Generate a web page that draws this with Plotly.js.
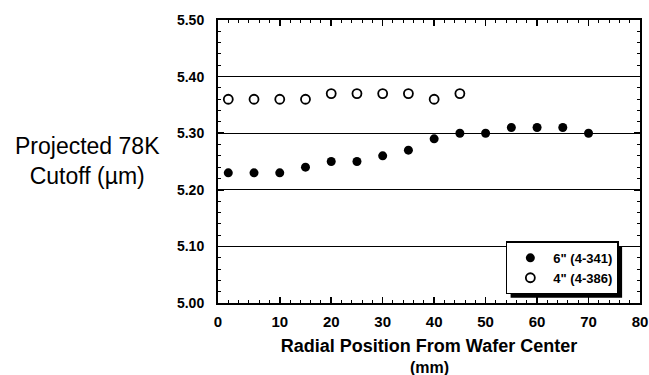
<!DOCTYPE html>
<html><head><meta charset="utf-8">
<script src="https://cdn.plot.ly/plotly-3.0.1.min.js"></script>
<style>body{margin:0;background:#fff}</style>
</head><body><div id="chart" style="width:649px;height:375px"></div>
<script>
// Data
const radius6 = [0, 5, 10, 15, 20, 25, 30, 35, 40, 45, 50, 55, 60, 65, 70];
const cutoff6 = [5.23, 5.23, 5.23, 5.24, 5.25, 5.25, 5.26, 5.27, 5.29, 5.30, 5.30, 5.31, 5.31, 5.31, 5.30];
const radius4 = [0, 5, 10, 15, 20, 25, 30, 35, 40, 45];
const cutoff4 = [5.36, 5.36, 5.36, 5.36, 5.37, 5.37, 5.37, 5.37, 5.36, 5.37];
const name6 = '6" (4-341)';
const name4 = '4" (4-386)';
// Tick labels (the original axis starts at -2 mm with its first label "0")
const xTickVals = [-2, 10, 20, 30, 40, 50, 60, 70, 80];
const xTickText = ['0', '10', '20', '30', '40', '50', '60', '70', '80'];
const yTickVals = [5.00, 5.10, 5.20, 5.30, 5.40, 5.50];
const yTickText = ['5.00', '5.10', '5.20', '5.30', '5.40', '5.50'];
const xTitle = 'Radial Position From Wafer Center';
const xUnit = '(mm)';
const yTitle = 'Projected 78K<br>Cutoff (µm)';

const FONT = '"Liberation Sans", Arial, Helvetica, sans-serif';

const traces = [
  {x: radius6, y: cutoff6, name: name6, type: 'scatter', mode: 'markers',
   marker: {symbol: 'circle', size: 9, color: '#000'}},
  {x: radius4, y: cutoff4, name: name4, type: 'scatter', mode: 'markers',
   marker: {symbol: 'circle-open', size: 9, color: '#000', line: {width: 1.8, color: '#000'}}}
];

const layout = {
  width: 649, height: 375,
  margin: {l: 218, r: 9, t: 20, b: 72},
  paper_bgcolor: '#fff', plot_bgcolor: '#fff',
  font: {family: FONT, color: '#000'},
  showlegend: true,
  legend: {x: 0.816, xanchor: 'center', y: 0.124, yanchor: 'middle',
           bgcolor: '#fff', bordercolor: '#000', borderwidth: 1.5,
           font: {family: FONT, size: 13, color: '#000', weight: 'bold'},
           itemwidth: 36, tracegroupgap: 0},
  xaxis: {
    range: [-2, 80], tickmode: 'array', tickvals: xTickVals, ticktext: xTickText,
    ticks: 'inside', ticklen: 6, tickwidth: 1.5, tickcolor: '#000',
    showline: true, linewidth: 2, linecolor: '#000', mirror: 'ticks',
    showgrid: false, zeroline: false, ticklabelstandoff: 4,
    tickfont: {family: FONT, size: 15, color: '#000', weight: 'bold'},
    minor: {tick0: 0, dtick: 2, ticks: 'inside', ticklen: 3, tickwidth: 1, tickcolor: '#000', showgrid: false},
    title: {text: xTitle, standoff: 10,
            font: {family: FONT, size: 18, color: '#000', weight: 'bold'}}
  },
  yaxis: {
    range: [5.0, 5.5], tickmode: 'array', tickvals: yTickVals, ticktext: yTickText,
    ticks: 'inside', ticklen: 6, tickwidth: 1.5, tickcolor: '#000',
    showline: true, linewidth: 2, linecolor: '#000', mirror: 'ticks',
    showgrid: true, gridcolor: '#000', gridwidth: 1, zeroline: false, ticklabelstandoff: 9,
    tickfont: {family: FONT, size: 14, color: '#000', weight: 'bold'},
    minor: {tick0: 5.0, dtick: 0.02, ticks: 'inside', ticklen: 3, tickwidth: 1, tickcolor: '#000', showgrid: false}
  },
  annotations: [
    {xref: 'paper', yref: 'paper', x: -0.310, y: 0.502, xanchor: 'center', yanchor: 'middle',
     showarrow: false, align: 'center', text: yTitle,
     font: {family: FONT, size: 23, color: '#000'}},
    {xref: 'paper', yref: 'paper', x: 0.5, y: -0.2279, xanchor: 'center', yanchor: 'middle',
     showarrow: false, text: xUnit, borderpad: 0,
     font: {family: FONT, size: 16, color: '#000', weight: 'bold'}}
  ]
};

Plotly.newPlot('chart', traces, layout, {displayModeBar: false, staticPlot: true}).then(function (gd) {
  // Drop shadow behind the legend box, placed from the legend's own rendered box
  const bg = gd.querySelector('.legend .bg');
  if (!bg) return;
  const r = bg.getBoundingClientRect();
  const c = gd.getBoundingClientRect();
  const s = gd._fullLayout._size;
  const off = 4;
  const px = function (x) { return (x - c.left - s.l) / s.w; };
  const py = function (y) { return 1 - (y - c.top - s.t) / s.h; };
  return Plotly.relayout(gd, {shapes: [{
    type: 'rect', xref: 'paper', yref: 'paper', layer: 'above',
    x0: px(r.left + off), x1: px(r.right + off), y0: py(r.bottom + off), y1: py(r.top + off),
    fillcolor: '#000', line: {width: 0}
  }]});
});
</script>
</body></html>
